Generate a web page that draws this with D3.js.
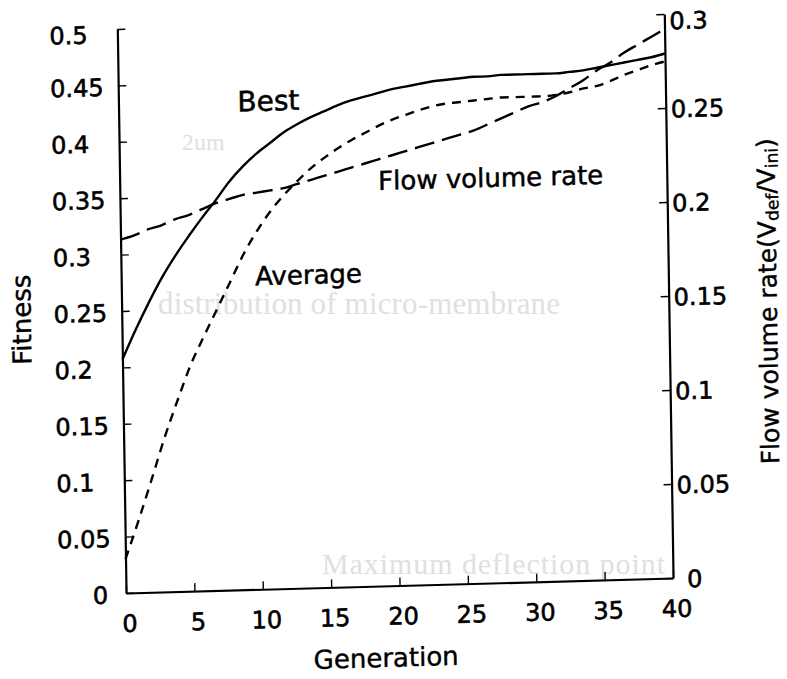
<!DOCTYPE html>
<html>
<head>
<meta charset="utf-8">
<script src="https://cdn.jsdelivr.net/npm/d3@7"></script>
<style>
  html, body { margin: 0; padding: 0; background: #fff; }
  svg { display: block; font-family: "DejaVu Sans", sans-serif; }
</style>
</head>
<body>
<svg id="chart" width="787" height="679"></svg>
<script>
// generation index and the three recorded series
const generations = [0, 1, 2, 3, 4, 5, 6, 7, 8, 9, 10, 11, 12, 13, 14, 15, 16, 17, 18, 19, 20,
    21, 22, 23, 24, 25, 26, 27, 28, 29, 30, 31, 32, 33, 34, 35, 36, 37, 38, 39, 40];

const bestFitness = [0.207, 0.233, 0.257, 0.279, 0.298, 0.315, 0.331, 0.346, 0.362, 0.375, 0.386,
    0.395, 0.404, 0.411, 0.417, 0.422, 0.427, 0.431, 0.434, 0.437, 0.440,
    0.442, 0.444, 0.446, 0.447, 0.448, 0.449, 0.449, 0.450, 0.450, 0.450,
    0.450, 0.450, 0.451, 0.452, 0.454, 0.456, 0.458, 0.460, 0.462, 0.465];

const averageFitness = [0.030, 0.064, 0.100, 0.137, 0.170, 0.201, 0.226, 0.250, 0.274, 0.298, 0.318,
    0.335, 0.349, 0.361, 0.372, 0.381, 0.389, 0.396, 0.402, 0.408, 0.413,
    0.417, 0.421, 0.424, 0.426, 0.427, 0.428, 0.429, 0.430, 0.430, 0.430,
    0.430, 0.431, 0.433, 0.436, 0.438, 0.442, 0.447, 0.451, 0.455, 0.458];

const flowRate = [0.188, 0.190, 0.193, 0.195, 0.198, 0.200, 0.203, 0.206, 0.208, 0.210, 0.211,
    0.212, 0.213, 0.215, 0.217, 0.219, 0.221, 0.223, 0.225, 0.227, 0.229,
    0.231, 0.233, 0.235, 0.237, 0.239, 0.241, 0.244, 0.247, 0.250, 0.253,
    0.255, 0.258, 0.262, 0.266, 0.271, 0.275, 0.280, 0.284, 0.288, 0.292];

const generationTicks = [0, 5, 10, 15, 20, 25, 30, 35, 40];
const fitnessTicks = [0, 0.05, 0.1, 0.15, 0.2, 0.25, 0.3, 0.35, 0.4, 0.45, 0.5];
const flowTicks = [0, 0.05, 0.1, 0.15, 0.2, 0.25, 0.3];

// in-plot annotations: [text, generation, fitness, font size]
const annotations = [
    ["Best", 8.7, 0.424, 28],
    ["Average", 9.8, 0.2695, 26],
    ["Flow volume rate", 18.9, 0.351, 26]
];

const width = 547;
const height = 564;

const svg = d3.select("#chart");
svg.append("rect").attr("width", 787).attr("height", 679).attr("fill", "#fff");

// faint print-through from the reverse of the page
const ghost = svg.append("g")
    .attr("fill", "#e0e0e0")
    .attr("font-family", "'Liberation Serif', serif");
ghost.append("text").attr("x", 158).attr("y", 314).attr("font-size", 31)
    .attr("textLength", 402)
    .text("distribution of micro-membrane");
ghost.append("text").attr("x", 322).attr("y", 574).attr("font-size", 30)
    .attr("textLength", 343)
    .text("Maximum deflection point");
ghost.append("text").attr("x", 182).attr("y", 150).attr("font-size", 24)
    .text("2um");

// the page is slightly skewed, so the whole plot sits in a sheared frame
const g = svg.append("g")
    .attr("transform", "matrix(1,-0.0274,0.0155,1,117.3,29)");

const x = d3.scaleLinear().domain([0, 40]).range([0, width]);
const yLeft = d3.scaleLinear().domain([0, 0.5]).range([height, 0]);
const yRight = d3.scaleLinear().domain([0, 0.3]).range([height, 0]);

const fmt = d => d === 0 ? "0" : d3.format(".2~f")(d);

// axes
const xAxis = g.append("g")
    .attr("transform", `translate(0,${height})`)
    .call(d3.axisBottom(x).tickValues(generationTicks).tickSize(-8).tickSizeOuter(0).tickFormat(fmt));
xAxis.selectAll("text")
    .attr("y", 39).attr("dy", null).attr("dx", 3);

const leftAxis = g.append("g")
    .call(d3.axisLeft(yLeft).tickValues(fitnessTicks).tickSize(-8).tickSizeOuter(0).tickFormat(fmt));
leftAxis.selectAll("text")
    .attr("text-anchor", d => d === 0 ? "end" : "start")
    .attr("x", d => d === 0 ? -18 : -68)
    .attr("dy", d => d === 0.5 ? "0.55em" : "0.4em");

const rightAxis = g.append("g")
    .attr("transform", `translate(${width},0)`)
    .call(d3.axisRight(yRight).tickValues(flowTicks).tickSize(-8).tickSizeOuter(0).tickFormat(fmt));
rightAxis.selectAll("text")
    .attr("x", d => d === 0 ? 14 : 5)
    .attr("dy", d => d === 0.3 ? "0.62em" : "0.38em");

g.selectAll(".domain").attr("stroke", "#000").attr("stroke-width", 2.2);
g.selectAll(".tick line").attr("stroke", "#000").attr("stroke-width", 1.4);
g.selectAll(".tick text")
    .attr("fill", "#000")
    .attr("stroke", "#000")
    .attr("stroke-width", 0.6)
    .attr("font-size", 24)
    .attr("font-family", "'DejaVu Sans', sans-serif");

// curves
const fitnessLine = d3.line()
    .x((d, i) => x(generations[i]))
    .y(d => yLeft(d))
    .curve(d3.curveMonotoneX);
const flowLine = d3.line()
    .x((d, i) => x(generations[i]))
    .y(d => yRight(d))
    .curve(d3.curveMonotoneX);

g.append("path")
    .datum(bestFitness)
    .attr("d", fitnessLine)
    .attr("fill", "none")
    .attr("stroke", "#000")
    .attr("stroke-width", 2.4);

g.append("path")
    .datum(averageFitness)
    .attr("d", fitnessLine)
    .attr("fill", "none")
    .attr("stroke", "#000")
    .attr("stroke-width", 2.4)
    .attr("stroke-dasharray", "9,7");

g.append("path")
    .datum(flowRate)
    .attr("d", flowLine)
    .attr("fill", "none")
    .attr("stroke", "#000")
    .attr("stroke-width", 2.4)
    .attr("stroke-dasharray", "20,8");

// series labels
g.selectAll(".note")
    .data(annotations)
    .enter().append("text")
    .attr("class", "note")
    .attr("x", d => x(d[1]))
    .attr("y", d => yLeft(d[2]))
    .attr("font-size", d => d[3])
    .attr("fill", "#000")
    .attr("stroke", "#000")
    .attr("stroke-width", 0.5)
    .text(d => d[0]);

// axis titles
const titles = g.append("g")
    .attr("fill", "#000")
    .attr("stroke", "#000")
    .attr("stroke-width", 0.4);

titles.append("text")
    .attr("x", 259).attr("y", 645)
    .attr("text-anchor", "middle")
    .attr("font-size", 26)
    .text("Generation");

titles.append("text")
    .attr("transform", "translate(-91,288) rotate(-90)")
    .attr("text-anchor", "middle")
    .attr("font-size", 26)
    .text("Fitness");

const rightTitle = titles.append("text")
    .attr("transform", `translate(${width + 108},290) rotate(-90)`)
    .attr("text-anchor", "middle")
    .attr("font-size", 25);
rightTitle.append("tspan").text("Flow volume rate(V");
rightTitle.append("tspan").attr("font-size", 17).attr("dy", 3).text("def");
rightTitle.append("tspan").attr("dy", -3).text("/V");
rightTitle.append("tspan").attr("font-size", 17).attr("dy", 3).text("ini");
rightTitle.append("tspan").attr("dy", -3).text(")");
</script>
</body>
</html>
